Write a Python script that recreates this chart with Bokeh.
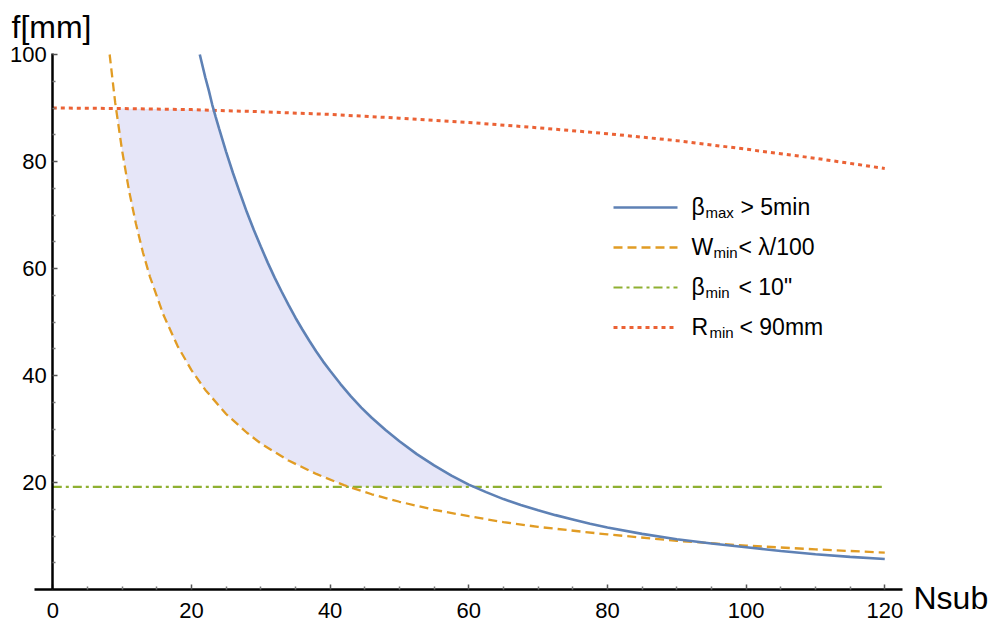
import numpy as np
from bokeh.plotting import figure
from bokeh.models import Label, FixedTicker, Range1d
from bokeh.embed import file_html
from bokeh.resources import INLINE

# ---------------- data ----------------
beta_max_N = [21.2, 22, 22.5, 23, 23.5, 24, 25, 26, 27, 28, 29, 30, 31, 32, 33, 34,
              35, 36, 37, 38, 39, 40, 41.5, 43, 44.5, 46, 48, 50, 52.5, 55, 57.5,
              60, 62.5, 65, 67.5, 70, 72.5, 75, 77.5, 80, 85, 90, 95, 100, 105,
              110, 115, 120]
beta_max_f = [100, 95.7, 93.3, 90.6, 88.3, 86.1, 81.8, 77.8, 74.1, 70.5, 67.2, 64.1,
              61.1, 58.3, 55.7, 53.2, 50.8, 48.6, 46.5, 44.5, 42.6, 40.9, 38.4, 36.1,
              34.0, 32.1, 29.8, 27.7, 25.3, 23.2, 21.3, 19.6, 18.2, 16.9, 15.8, 14.8,
              13.9, 13.1, 12.3, 11.6, 10.4, 9.4, 8.6, 7.9, 7.2, 6.6, 6.1, 5.7]

w_min_N = [8.2, 9, 10, 11, 12, 13, 14, 16, 18, 20, 22, 25, 28, 30, 34, 38, 42, 46,
           50, 55, 60, 65, 70, 80, 90, 100, 110, 120]
w_min_f = [100, 91, 82, 74.5, 68.3, 63, 58.5, 51.2, 45.5, 41, 37.3, 32.8, 29.3, 27.3,
           24.1, 21.6, 19.5, 17.8, 16.4, 14.9, 13.7, 12.6, 11.7, 10.3, 9.1, 8.2, 7.5, 6.9]

beta_min_N = [0, 120]
beta_min_f = [19.2, 19.2]

r_min_N = [0, 10, 20, 30, 40, 50, 60, 70, 80, 90, 100, 110, 120]
r_min_f = [90.0, 89.9, 89.7, 89.3, 88.8, 88.1, 87.3, 86.3, 85.2, 83.9, 82.3, 80.6, 78.7]

x_ticks = [0, 20, 40, 60, 80, 100, 120]
x_minor = [v for v in range(0, 121, 5) if v % 20]
y_ticks = [20, 40, 60, 80, 100]
y_minor = [v for v in range(5, 101, 5) if v % 20]

# ---------------- styling / layout ----------------
BLUE = "#5E81B5"
ORANGE = "#E19C24"
GREEN = "#8FB032"
RED = "#EB6235"
FILL = "#E6E6F8"
FONT = "Liberation Sans"

W, H = 992, 621
XPX0, XSC = 52.3, 6.933      # pixel of x=0, pixels per unit
YPX0, YSC = 589.0, 5.35      # pixel of y=0, pixels per unit
X0 = -XPX0 / XSC
X1 = X0 + W / XSC
Y1 = YPX0 / YSC
Y0 = Y1 - H / YSC
BASE_SHIFT = 0.33            # empirical baseline correction (em)


def px2x(px):
    return X0 + px / XSC


def px2y(py):
    return Y1 - py / YSC


def text_at(px, baseline_py, txt, size):
    return Label(x=px2x(px), y=px2y(baseline_py - BASE_SHIFT * size), text=txt,
                 text_font=FONT, text_font_size=f"{size}px", text_color="black",
                 text_baseline="alphabetic", text_align="left")


p = figure(width=W, height=H, x_range=Range1d(X0, X1), y_range=Range1d(Y0, Y1),
           output_backend="svg", toolbar_location=None,
           min_border_left=0, min_border_right=0, min_border_top=0,
           min_border_bottom=0)
p.grid.visible = False
p.outline_line_color = None
p.background_fill_color = "white"
p.border_fill_color = "white"

# axes through the origin
for ax in (p.xaxis, p.yaxis):
    ax.fixed_location = 0
    ax.axis_line_width = 2.5
    ax.axis_line_color = "black"
    ax.major_tick_in = 5
    ax.major_tick_out = 0
    ax.minor_tick_in = 3
    ax.minor_tick_out = 0
    ax.major_tick_line_color = "#555555"
    ax.minor_tick_line_color = "#777777"
    ax.major_tick_line_width = 1.5
    ax.minor_tick_line_width = 1.5
    ax.major_label_text_font = FONT
    ax.major_label_text_font_size = "22px"
    ax.major_label_text_color = "black"
p.xaxis.ticker = FixedTicker(ticks=x_ticks, minor_ticks=x_minor)
p.yaxis.ticker = FixedTicker(ticks=y_ticks, minor_ticks=y_minor)
p.xaxis.bounds = (-2.6, 122.6)
p.yaxis.bounds = (0, 100.2)
p.xaxis.major_label_standoff = 13
p.yaxis.major_label_standoff = 6

# shaded feasible region
xs = np.linspace(0, 120, 1201)
lower = np.maximum(np.interp(xs, w_min_N, w_min_f, left=np.inf),
                   np.interp(xs, beta_min_N, beta_min_f))
upper = np.minimum(np.interp(xs, beta_max_N, beta_max_f, left=np.inf),
                   np.interp(xs, r_min_N, r_min_f))
mask = upper > lower
p.varea(x=xs[mask], y1=lower[mask], y2=upper[mask], fill_color=FILL, fill_alpha=1.0)

# curves
p.line(beta_min_N, beta_min_f, line_color=GREEN, line_width=2.2, line_dash="9 4 3 4")
p.line(r_min_N, r_min_f, line_color=RED, line_width=3, line_dash="4 4")
p.line(w_min_N, w_min_f, line_color=ORANGE, line_width=2.3, line_dash="9 5")
p.line(beta_max_N, beta_max_f, line_color=BLUE, line_width=2.6)

# axis titles
p.add_layout(text_at(11, 37, "f[mm]", 32))
p.add_layout(text_at(913, 608, "Nsub", 32))

# legend (manual, to get subscripts)
legend_rows = [
    (BLUE, None, 2.6, "β", "max", "> 5min", 705, 740),
    (ORANGE, "9 5", 2.3, "W", "min", "< λ/100", 713, 738),
    (GREEN, "9 4 3 4", 2.2, "β", "min", "< 10\"", 705, 738),
    (RED, "4 4", 3, "R", "min", "< 90mm", 709, 739),
]
for i, (col, dash, lw, main, sub, rest, xsub, xrest) in enumerate(legend_rows):
    cy = 207 + 40 * i
    base = 214 + 40 * i
    kw = dict(line_color=col, line_width=lw)
    if dash:
        kw["line_dash"] = dash
    p.line([px2x(613), px2x(677)], [px2y(cy), px2y(cy)], **kw)
    p.add_layout(text_at(691, base, main, 23))
    p.add_layout(text_at(xsub, base + 3, sub, 15))
    p.add_layout(text_at(xrest, base, rest, 23))

open("out.html", "w").write(file_html(p, INLINE))
